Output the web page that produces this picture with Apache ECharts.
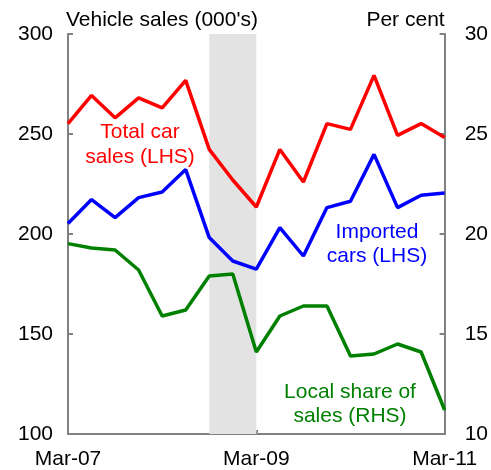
<!DOCTYPE html>
<html>
<head>
<meta charset="utf-8">
<script src="https://cdn.jsdelivr.net/npm/echarts@6/dist/echarts.min.js"></script>
<style>
html,body{margin:0;padding:0;background:#fff;}
#chart{width:491px;height:470px;}
</style>
</head>
<body>
<div id="chart"></div>
<script>
const categories = ['Mar-07','Jun-07','Sep-07','Dec-07','Mar-08','Jun-08','Sep-08','Dec-08','Mar-09','Jun-09','Sep-09','Dec-09','Mar-10','Jun-10','Sep-10','Dec-10','Mar-11'];
const totalCarSales = [255.2, 269.3, 258.1, 268.1, 263.1, 276.8, 242.3, 227, 213.5, 242.3, 226, 255.2, 252.3, 279.3, 249.3, 255.2, 248.2];
const importedCars = [205.2, 217.2, 208.2, 218.2, 221, 232.2, 198.2, 186.5, 182.4, 203.2, 189, 213.2, 216.4, 239.8, 213.2, 219.4, 220.5];
const localShare = [19.52, 19.3, 19.2, 18.2, 15.9, 16.2, 17.9, 18.0, 14.1, 15.9, 16.4, 16.4, 13.9, 14.0, 14.5, 14.1, 11.2];
const recessionStart = 'Sep-08';
const recessionEnd = 'Mar-09';
const leftTicks = {min: 100, max: 300, interval: 50};
const rightTicks = {min: 10, max: 30, interval: 5};

const FONT = 'Liberation Sans, Arial, sans-serif';
const FS = 21;
const AXIS_COLOR = '#808080';
const chart = echarts.init(document.getElementById('chart'), null, {renderer: 'canvas'});

const yAxisCommon = {
  type: 'value',
  splitLine: {show: false},
  axisLine: {show: true, lineStyle: {color: AXIS_COLOR, width: 2}},
  axisTick: {show: true, inside: true, length: 5, lineStyle: {color: AXIS_COLOR, width: 2}},
  nameLocation: 'end',
  nameGap: 14,
};

chart.setOption({
  animation: false,
  backgroundColor: '#fff',
  textStyle: {fontFamily: FONT},
  grid: {left: 68, right: 46, top: 34, bottom: 36, containLabel: false},
  xAxis: {
    type: 'category',
    data: categories,
    boundaryGap: false,
    axisLine: {show: true, lineStyle: {color: AXIS_COLOR, width: 2}},
    axisTick: {show: true, inside: true, length: 4, interval: 7, lineStyle: {color: AXIS_COLOR, width: 2}},
    axisLabel: {interval: 7, color: '#000', fontSize: FS, fontFamily: FONT, margin: 15, showMinLabel: true, showMaxLabel: true},
    splitLine: {show: false}
  },
  yAxis: [
    Object.assign({}, yAxisCommon, {
      position: 'left', min: leftTicks.min, max: leftTicks.max, interval: leftTicks.interval,
      name: "Vehicle sales (000's)",
      nameTextStyle: {color: '#000', fontSize: FS, fontFamily: FONT, align: 'left', verticalAlign: 'middle', padding: [0,0,0,-2]},
      axisLabel: {color: '#000', fontSize: FS, fontFamily: FONT, margin: 15}
    }),
    Object.assign({}, yAxisCommon, {
      position: 'right', min: rightTicks.min, max: rightTicks.max, interval: rightTicks.interval,
      name: 'Per cent',
      nameTextStyle: {color: '#000', fontSize: FS, fontFamily: FONT, align: 'right', verticalAlign: 'middle'},
      axisLabel: {color: '#000', fontSize: FS, fontFamily: FONT, margin: 20}
    })
  ],
  series: [
    {
      name: 'Total car sales (LHS)', type: 'line', data: totalCarSales, yAxisIndex: 0,
      symbol: 'none', lineStyle: {color: '#ff0000', width: 3.5}, z: 4,
      markArea: {
        silent: true,
        itemStyle: {color: '#e3e3e3'},
        data: [[{xAxis: recessionStart}, {xAxis: recessionEnd}]]
      }
    },
    {
      name: 'Imported cars (LHS)', type: 'line', data: importedCars, yAxisIndex: 0,
      symbol: 'none', lineStyle: {color: '#0000ff', width: 3.5}, z: 4
    },
    {
      name: 'Local share of sales (RHS)', type: 'line', data: localShare, yAxisIndex: 1,
      symbol: 'none', lineStyle: {color: '#008000', width: 3.5}, z: 4
    }
  ],
  graphic: [
    {type: 'text', x: 140, y: 120, z: 100, style: {text: 'Total car\nsales (LHS)', fill: '#ff0000', font: FS + 'px ' + FONT, textAlign: 'center', textVerticalAlign: 'top', lineHeight: 25}},
    {type: 'text', x: 377, y: 220, z: 100, style: {text: 'Imported\ncars (LHS)', fill: '#0000ff', font: FS + 'px ' + FONT, textAlign: 'center', textVerticalAlign: 'top', lineHeight: 24}},
    {type: 'text', x: 350, y: 380, z: 100, style: {text: 'Local share of\nsales (RHS)', fill: '#008000', font: FS + 'px ' + FONT, textAlign: 'center', textVerticalAlign: 'top', lineHeight: 24}}
  ]
});
</script>
</body>
</html>
